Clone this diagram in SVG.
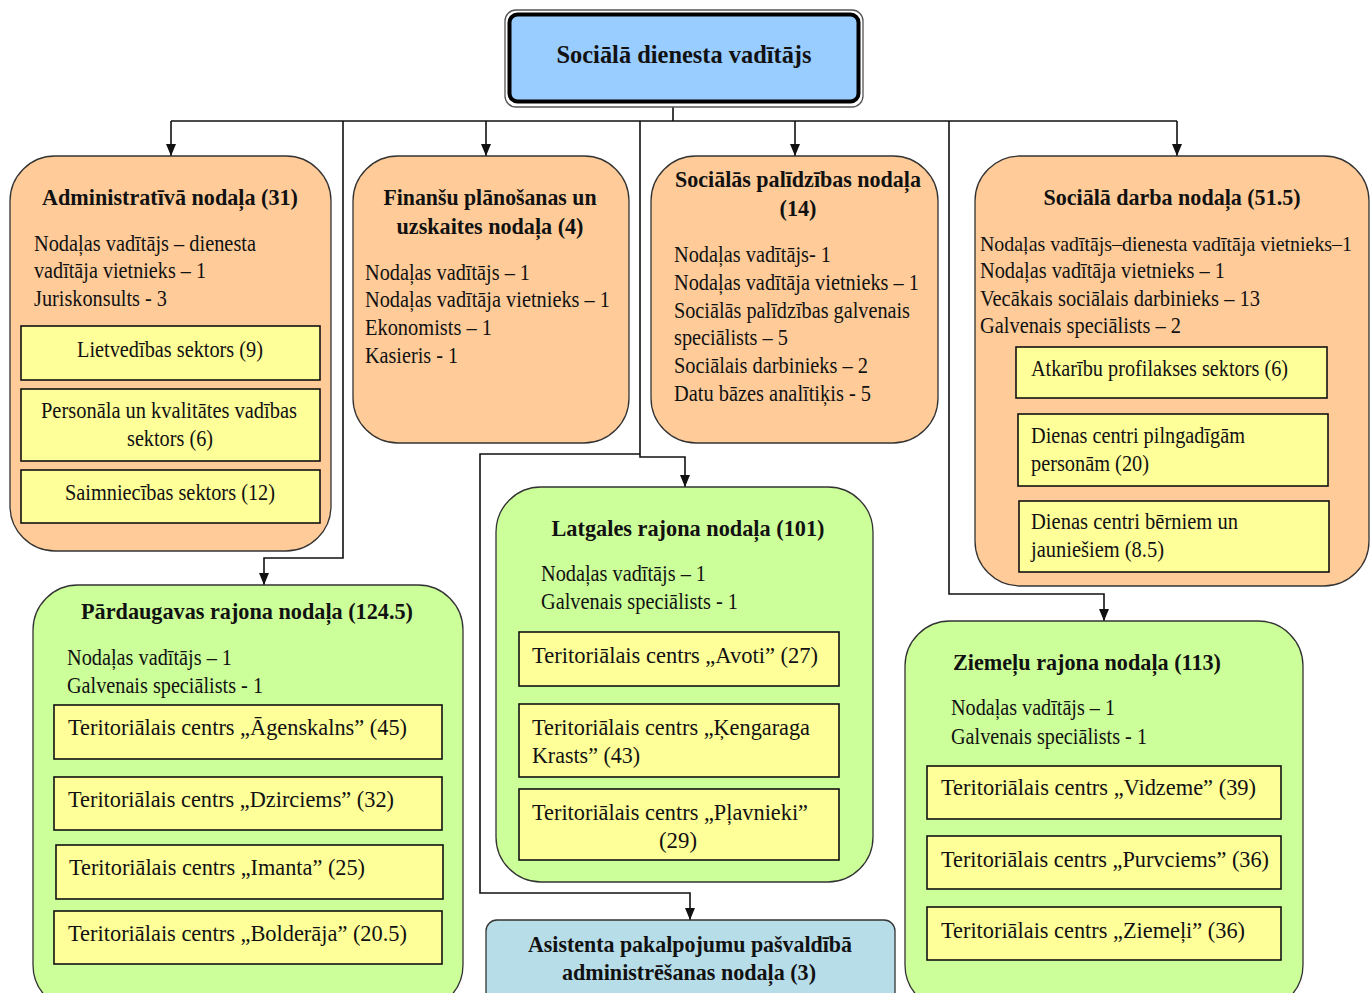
<svg xmlns="http://www.w3.org/2000/svg" width="1371" height="993" viewBox="0 0 1371 993">
<style>
text{font-family:"Liberation Serif","Times New Roman",serif;fill:#111;}
.t{font-family:"Liberation Serif","Times New Roman",serif;font-weight:bold;font-size:23.5px;text-anchor:middle;}
.b{font-family:"Liberation Serif","Times New Roman",serif;font-size:22.5px;}
.c{font-family:"Liberation Serif","Times New Roman",serif;font-size:22.5px;text-anchor:middle;}
.dept{fill:#FFCC99;stroke:#333;stroke-width:1.3;}
.reg{fill:#CCFF99;stroke:#333;stroke-width:1.3;}
.sec{fill:#FFFF99;stroke:#111;stroke-width:1.6;}
.ln{fill:none;stroke:#111;stroke-width:1.6;}
</style>
<defs>
<marker id="ah" markerWidth="12" markerHeight="10" refX="12" refY="5" orient="auto" markerUnits="userSpaceOnUse" viewBox="0 0 12 10"><path d="M0,0 L12,5 L0,10 Z" fill="#111"/></marker>
</defs>

<g id="connectors">
<path class="ln" d="M673,104 V121 M171,121 H1177"/>
<path class="ln" d="M171,121 V156" marker-end="url(#ah)"/>
<path class="ln" d="M486,121 V156" marker-end="url(#ah)"/>
<path class="ln" d="M795,121 V156" marker-end="url(#ah)"/>
<path class="ln" d="M1177,121 V156" marker-end="url(#ah)"/>
<path class="ln" d="M343,121 V558 H264 V585" marker-end="url(#ah)"/>
<path class="ln" d="M640,121 V457 H685 V487" marker-end="url(#ah)"/>
<path class="ln" d="M640,454 H480 V893 H690 V920" marker-end="url(#ah)"/>
<path class="ln" d="M949,121 V594 H1104 V621" marker-end="url(#ah)"/>
</g>

<g id="head">
<rect x="505" y="10" width="358" height="97" rx="11" fill="#fff" stroke="#555" stroke-width="1.3"/>
<rect x="509.5" y="14.5" width="349" height="87" rx="8" fill="#99CCFF" stroke="#000" stroke-width="4"/>
<text class="t" x="684" y="63" style="font-size:26px" textLength="255" lengthAdjust="spacingAndGlyphs">Sociālā dienesta vadītājs</text>
</g>

<g id="admin">
<rect class="dept" x="10" y="156" width="321" height="395" rx="45"/>
<text class="t" x="170" y="205" textLength="256" lengthAdjust="spacingAndGlyphs">Administratīvā nodaļa (31)</text>
<text class="b" x="34" y="251" textLength="222" lengthAdjust="spacingAndGlyphs">Nodaļas vadītājs – dienesta</text>
<text class="b" x="34" y="278" textLength="172" lengthAdjust="spacingAndGlyphs">vadītāja vietnieks – 1</text>
<text class="b" x="34" y="306" textLength="133" lengthAdjust="spacingAndGlyphs">Juriskonsults  - 3</text>
<g id="lietvedibas">
<rect class="sec" x="21" y="326" width="299" height="54"/>
<text class="c" x="170" y="357" textLength="186" lengthAdjust="spacingAndGlyphs">Lietvedības sektors (9)</text>
</g>
<g id="personala">
<rect class="sec" x="21" y="389" width="299" height="72"/>
<text class="c" x="169" y="418" textLength="256" lengthAdjust="spacingAndGlyphs">Personāla un kvalitātes vadības</text>
<text class="c" x="170" y="446" textLength="86" lengthAdjust="spacingAndGlyphs">sektors (6)</text>
</g>
<g id="saimniecibas">
<rect class="sec" x="21" y="470" width="299" height="53"/>
<text class="c" x="170" y="500" textLength="210" lengthAdjust="spacingAndGlyphs">Saimniecības sektors (12)</text>
</g>
</g>

<g id="finansu">
<rect class="dept" x="353" y="156" width="276" height="287" rx="45"/>
<text class="t" x="490" y="205" textLength="213" lengthAdjust="spacingAndGlyphs">Finanšu plānošanas un</text>
<text class="t" x="490" y="234" textLength="187" lengthAdjust="spacingAndGlyphs">uzskaites nodaļa (4)</text>
<text class="b" x="365" y="280" textLength="165" lengthAdjust="spacingAndGlyphs">Nodaļas vadītājs – 1</text>
<text class="b" x="365" y="307" textLength="245" lengthAdjust="spacingAndGlyphs">Nodaļas vadītāja vietnieks – 1</text>
<text class="b" x="365" y="335" textLength="127" lengthAdjust="spacingAndGlyphs">Ekonomists – 1</text>
<text class="b" x="365" y="363" textLength="93" lengthAdjust="spacingAndGlyphs">Kasieris - 1</text>
</g>

<g id="palidzibas">
<rect class="dept" x="651" y="156" width="287" height="287" rx="45"/>
<text class="t" x="798" y="187" textLength="246" lengthAdjust="spacingAndGlyphs">Sociālās palīdzības nodaļa</text>
<text class="t" x="798" y="216" textLength="37" lengthAdjust="spacingAndGlyphs">(14)</text>
<text class="b" x="674" y="262" textLength="157" lengthAdjust="spacingAndGlyphs">Nodaļas vadītājs- 1</text>
<text class="b" x="674" y="290" textLength="245" lengthAdjust="spacingAndGlyphs">Nodaļas vadītāja vietnieks – 1</text>
<text class="b" x="674" y="318" textLength="236" lengthAdjust="spacingAndGlyphs">Sociālās palīdzības galvenais</text>
<text class="b" x="674" y="345" textLength="114" lengthAdjust="spacingAndGlyphs">speciālists – 5</text>
<text class="b" x="674" y="373" textLength="194" lengthAdjust="spacingAndGlyphs">Sociālais  darbinieks – 2</text>
<text class="b" x="674" y="401" textLength="197" lengthAdjust="spacingAndGlyphs">Datu bāzes analītiķis - 5</text>
</g>

<g id="darba">
<rect class="dept" x="975" y="156" width="394" height="430" rx="45"/>
<text class="t" x="1172" y="205" textLength="257" lengthAdjust="spacingAndGlyphs">Sociālā darba nodaļa (51.5)</text>
<text class="b" x="980" y="251" style="font-size:21.5px" textLength="372" lengthAdjust="spacingAndGlyphs">Nodaļas vadītājs–dienesta vadītāja vietnieks–1</text>
<text class="b" x="980" y="278" textLength="245" lengthAdjust="spacingAndGlyphs">Nodaļas vadītāja vietnieks – 1</text>
<text class="b" x="980" y="306" textLength="280" lengthAdjust="spacingAndGlyphs">Vecākais sociālais  darbinieks – 13</text>
<text class="b" x="980" y="333" textLength="201" lengthAdjust="spacingAndGlyphs">Galvenais speciālists – 2</text>
<g id="atkaribu">
<rect class="sec" x="1016" y="347" width="311" height="51"/>
<text class="b" x="1031" y="376" textLength="257" lengthAdjust="spacingAndGlyphs">Atkarību profilakses sektors (6)</text>
</g>
<g id="pilngadigam">
<rect class="sec" x="1018" y="414" width="310" height="72"/>
<text class="b" x="1031" y="443" textLength="214" lengthAdjust="spacingAndGlyphs">Dienas centri pilngadīgām</text>
<text class="b" x="1031" y="471" textLength="118" lengthAdjust="spacingAndGlyphs">personām (20)</text>
</g>
<g id="berniem">
<rect class="sec" x="1019" y="501" width="310" height="71"/>
<text class="b" x="1031" y="529" textLength="207" lengthAdjust="spacingAndGlyphs">Dienas centri bērniem un</text>
<text class="b" x="1031" y="557" textLength="133" lengthAdjust="spacingAndGlyphs">jauniešiem (8.5)</text>
</g>
</g>

<g id="pardaugavas">
<rect class="reg" x="33" y="585" width="430" height="425" rx="45"/>
<text class="t" x="247" y="619" textLength="332" lengthAdjust="spacingAndGlyphs">Pārdaugavas rajona nodaļa (124.5)</text>
<text class="b" x="67" y="665" textLength="165" lengthAdjust="spacingAndGlyphs">Nodaļas vadītājs – 1</text>
<text class="b" x="67" y="693" textLength="196" lengthAdjust="spacingAndGlyphs">Galvenais speciālists  - 1</text>
<g id="agenskalns">
<rect class="sec" x="54" y="705" width="388" height="54"/>
<text class="b" x="68" y="735" textLength="339" lengthAdjust="spacingAndGlyphs">Teritoriālais centrs „Āgenskalns” (45)</text>
</g>
<g id="dzirciems">
<rect class="sec" x="54" y="777" width="388" height="53"/>
<text class="b" x="68" y="807" textLength="326" lengthAdjust="spacingAndGlyphs">Teritoriālais centrs „Dzirciems” (32)</text>
</g>
<g id="imanta">
<rect class="sec" x="56" y="845" width="387" height="54"/>
<text class="b" x="69" y="875" textLength="296" lengthAdjust="spacingAndGlyphs">Teritoriālais centrs „Imanta” (25)</text>
</g>
<g id="boldera">
<rect class="sec" x="54" y="911" width="388" height="53"/>
<text class="b" x="68" y="941" textLength="339" lengthAdjust="spacingAndGlyphs">Teritoriālais centrs „Bolderāja” (20.5)</text>
</g>
</g>

<g id="latgales">
<rect class="reg" x="496" y="487" width="377" height="395" rx="45"/>
<text class="t" x="688" y="536" textLength="273" lengthAdjust="spacingAndGlyphs">Latgales rajona nodaļa (101)</text>
<text class="b" x="541" y="581" textLength="165" lengthAdjust="spacingAndGlyphs">Nodaļas vadītājs – 1</text>
<text class="b" x="541" y="609" textLength="197" lengthAdjust="spacingAndGlyphs">Galvenais speciālists  - 1</text>
<g id="avoti">
<rect class="sec" x="519" y="632" width="320" height="54"/>
<text class="b" x="532" y="663" textLength="286" lengthAdjust="spacingAndGlyphs">Teritoriālais centrs „Avoti” (27)</text>
</g>
<g id="kengaraga">
<rect class="sec" x="519" y="704" width="320" height="73"/>
<text class="b" x="532" y="735" textLength="278" lengthAdjust="spacingAndGlyphs">Teritoriālais centrs „Ķengaraga</text>
<text class="b" x="532" y="763" textLength="108" lengthAdjust="spacingAndGlyphs">Krasts” (43)</text>
</g>
<g id="plavnieki">
<rect class="sec" x="519" y="789" width="320" height="71"/>
<text class="b" x="532" y="820" textLength="276" lengthAdjust="spacingAndGlyphs">Teritoriālais centrs „Pļavnieki”</text>
<text class="c" x="678" y="848" textLength="38" lengthAdjust="spacingAndGlyphs">(29)</text>
</g>
</g>

<g id="ziemelu">
<rect class="reg" x="905" y="621" width="398" height="389" rx="45"/>
<text class="t" x="1087" y="670" textLength="268" lengthAdjust="spacingAndGlyphs">Ziemeļu rajona nodaļa (113)</text>
<text class="b" x="951" y="715" textLength="164" lengthAdjust="spacingAndGlyphs">Nodaļas vadītājs – 1</text>
<text class="b" x="951" y="744" textLength="196" lengthAdjust="spacingAndGlyphs">Galvenais speciālists  - 1</text>
<g id="vidzeme">
<rect class="sec" x="927" y="766" width="354" height="53"/>
<text class="b" x="941" y="795" textLength="315" lengthAdjust="spacingAndGlyphs">Teritoriālais centrs „Vidzeme” (39)</text>
</g>
<g id="purvciems">
<rect class="sec" x="927" y="836" width="354" height="53"/>
<text class="b" x="941" y="867" textLength="328" lengthAdjust="spacingAndGlyphs">Teritoriālais centrs „Purvciems” (36)</text>
</g>
<g id="ziemeli">
<rect class="sec" x="927" y="907" width="354" height="53"/>
<text class="b" x="941" y="938" textLength="304" lengthAdjust="spacingAndGlyphs">Teritoriālais centrs „Ziemeļi” (36)</text>
</g>
</g>

<g id="asistenta">
<rect x="486" y="920" width="409" height="90" rx="11" fill="#B7DDE8" stroke="#333" stroke-width="1.3"/>
<text class="t" x="690" y="952" textLength="324" lengthAdjust="spacingAndGlyphs">Asistenta pakalpojumu pašvaldībā</text>
<text class="t" x="689" y="980" textLength="254" lengthAdjust="spacingAndGlyphs">administrēšanas nodaļa (3)</text>
</g>
</svg>
